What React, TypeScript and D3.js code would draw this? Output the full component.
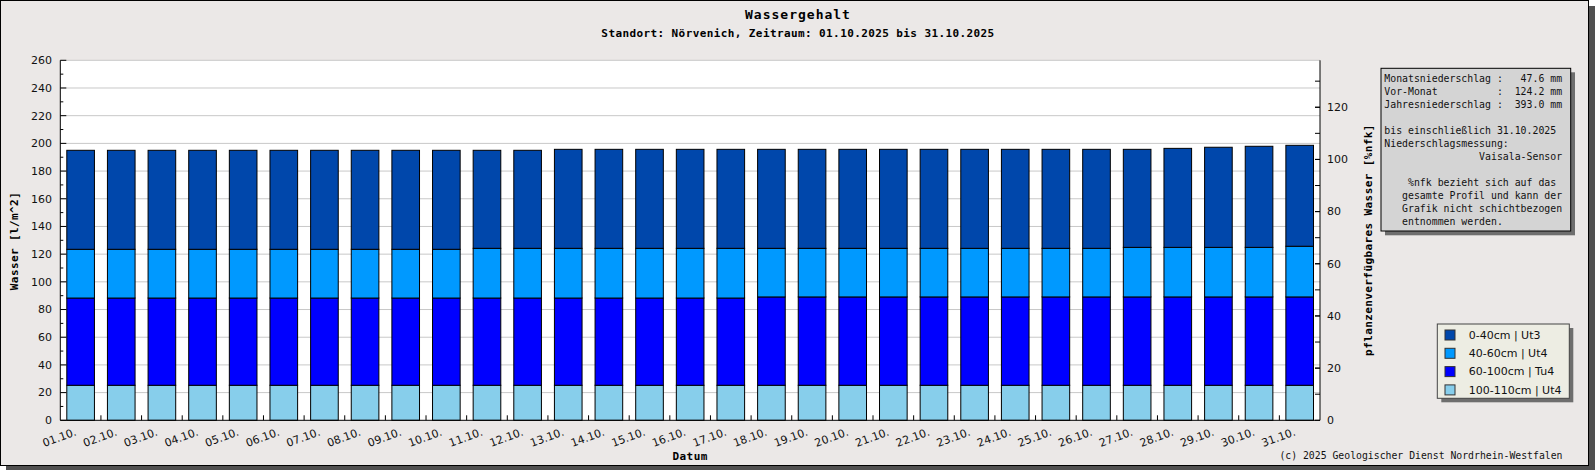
import React from 'react'
import * as d3 from 'd3'

// day labels on the x axis
const days = [
    '01.10.', '02.10.', '03.10.', '04.10.', '05.10.', '06.10.', '07.10.', '08.10.',
    '09.10.', '10.10.', '11.10.', '12.10.', '13.10.', '14.10.', '15.10.', '16.10.',
    '17.10.', '18.10.', '19.10.', '20.10.', '21.10.', '22.10.', '23.10.', '24.10.',
    '25.10.', '26.10.', '27.10.', '28.10.', '29.10.', '30.10.', '31.10.',
]

// water per layer in l/m^2
const layer0to40 = [
    71.5, 71.5, 71.5, 71.5, 71.5, 71.5, 71.5, 71.5, 71.5, 71.5, 70.8, 70.8, 71.5, 71.5, 71.5, 71.5,
    71.5, 71.5, 71.5, 71.5, 71.5, 71.5, 71.5, 71.5, 71.5, 71.5, 70.8, 71.5, 72.3, 73.0, 72.9,
]
const layer40to60 = [
    35.2, 35.2, 35.2, 35.2, 35.2, 35.2, 35.2, 35.2, 35.2, 35.2, 35.9, 35.9, 35.9, 35.9, 35.9, 35.9,
    35.9, 35.1, 35.1, 35.1, 35.1, 35.1, 35.1, 35.1, 35.1, 35.1, 35.8, 35.8, 35.8, 35.8, 36.6,
]
const layer60to100 = [
    63.0, 63.0, 63.0, 63.0, 63.0, 63.0, 63.0, 63.0, 63.0, 63.0, 63.0, 63.0, 63.0, 63.0, 63.0, 63.0,
    63.0, 63.8, 63.8, 63.8, 63.8, 63.8, 63.8, 63.8, 63.8, 63.8, 63.8, 63.8, 63.8, 63.8, 63.8,
]
const layer100to110 = [
    25.3, 25.3, 25.3, 25.3, 25.3, 25.3, 25.3, 25.3, 25.3, 25.3, 25.3, 25.3, 25.3, 25.3, 25.3, 25.3,
    25.3, 25.3, 25.3, 25.3, 25.3, 25.3, 25.3, 25.3, 25.3, 25.3, 25.3, 25.3, 25.3, 25.3, 25.3,
]

// bottom to top
const layerKeys = ['100-110cm | Ut4', '60-100cm | Tu4', '40-60cm | Ut4', '0-40cm | Ut3']
const layerColors = ['#87ceeb', '#0000ff', '#0099ff', '#0047ab']
const legendOrder = ['0-40cm | Ut3', '40-60cm | Ut4', '60-100cm | Tu4', '100-110cm | Ut4']

const leftTicks = [0, 20, 40, 60, 80, 100, 120, 140, 160, 180, 200, 220, 240, 260]
const rightTicks = [0, 20, 40, 60, 80, 100, 120]

const infoLines = [
    'Monatsniederschlag :   47.6 mm',
    'Vor-Monat          :  124.2 mm',
    'Jahresniederschlag :  393.0 mm',
    '',
    'bis einschließlich 31.10.2025',
    'Niederschlagsmessung:',
    '                Vaisala-Sensor',
    '',
    '    %nfk bezieht sich auf das',
    '   gesamte Profil und kann der',
    '   Grafik nicht schichtbezogen',
    '   entnommen werden.',
]

const W = 1595
const H = 470
const MONO = '"DejaVu Sans Mono", "Liberation Mono", monospace'
const SANS = '"DejaVu Sans", Verdana, sans-serif'

export default function App() {
    const plot = {left: 60.3, right: 1320, top: 60.3, bottom: 420.3}

    const rows = days.map((d, i) => ({
        day: d,
        [layerKeys[0]]: layer100to110[i],
        [layerKeys[1]]: layer60to100[i],
        [layerKeys[2]]: layer40to60[i],
        [layerKeys[3]]: layer0to40[i],
    }))

    const x = d3.scaleBand<string>()
        .domain(days)
        .range([plot.left, plot.right])
        .paddingInner(0.32)
        .paddingOuter(0.16)
    const y = d3.scaleLinear().domain([0, 260]).range([plot.bottom, plot.top])
    // %nfk scale on the right
    const yRight = d3.scaleLinear().domain([0, 138]).range([plot.bottom, plot.top])

    const series = d3.stack<any>().keys(layerKeys)(rows)
    const color = d3.scaleOrdinal<string>().domain(layerKeys).range(layerColors)

    const step = x.step()
    const leftMinor = d3.range(10, 260, 20)
    const rightMinor = d3.range(10, 138, 10)

    return (
        <svg width={W} height={H} style={{position: 'absolute', left: 0, top: 0}}>
            {/* outer frame with shadow */}
            <rect x={6} y={6} width={W - 6} height={H - 6} fill="#505050"/>
            <rect x={0.5} y={0.5} width={1588} height={465} fill="#ebe8e7" stroke="#000"/>

            <text x={798} y={18.5} textAnchor="middle" fontFamily={MONO} fontWeight="bold"
                  fontSize={13} letterSpacing={1}>Wassergehalt</text>
            <text x={798} y={37} textAnchor="middle" fontFamily={MONO} fontWeight="bold"
                  fontSize={11} letterSpacing={0.4}>
                Standort: Nörvenich, Zeitraum: 01.10.2025 bis 31.10.2025
            </text>

            {/* plot area */}
            <rect x={plot.left} y={plot.top} width={plot.right - plot.left} height={plot.bottom - plot.top}
                  fill="#fff"/>
            {leftTicks.slice(1).map(t => (
                <line key={'g' + t} x1={plot.left} x2={plot.right} y1={y(t)} y2={y(t)} stroke="#c8c8c8"/>
            ))}

            {series.map(s => (
                <g key={s.key} fill={color(s.key)} stroke="#000" strokeWidth={1}>
                    {s.map((d, i) => (
                        <rect key={i} x={x(days[i])} y={y(d[1])} width={x.bandwidth()}
                              height={y(d[0]) - y(d[1])}/>
                    ))}
                </g>
            ))}

            {/* axes */}
            <g stroke="#000" fill="none">
                <line x1={plot.left} x2={plot.left} y1={plot.top} y2={plot.bottom}/>
                <line x1={plot.right} x2={plot.right} y1={plot.top} y2={plot.bottom}/>
                <line x1={plot.left} x2={plot.right} y1={plot.bottom} y2={plot.bottom}/>
                {leftTicks.map(t => (
                    <line key={'lt' + t} x1={plot.left} x2={plot.left + 6} y1={y(t)} y2={y(t)}/>
                ))}
                {leftMinor.map(t => (
                    <line key={'lm' + t} x1={plot.left} x2={plot.left + 3} y1={y(t)} y2={y(t)}/>
                ))}
                {rightMinor.concat(rightTicks).map(t => (
                    <line key={'rt' + t} x1={plot.right - 5} x2={plot.right} y1={yRight(t)} y2={yRight(t)}/>
                ))}
                {days.slice(1).map(d => (
                    <line key={'xt' + d} x1={x(d)! - step * 0.16} x2={x(d)! - step * 0.16}
                          y1={plot.bottom} y2={plot.bottom - 5}/>
                ))}
            </g>

            <g fontFamily={SANS} fontSize={11} fill="#111">
                {leftTicks.map(t => (
                    <text key={'ll' + t} x={52} y={y(t)} dy="0.35em" textAnchor="end">{t}</text>
                ))}
                {rightTicks.map(t => (
                    <text key={'rl' + t} x={1327} y={yRight(t)} dy="0.35em">{t}</text>
                ))}
                {days.map(d => (
                    <text key={'xl' + d} textAnchor="end"
                          transform={`translate(${x(d)! + x.bandwidth() / 2 - 3.5},435) rotate(-20)`}>{d}</text>
                ))}
            </g>

            <text transform="translate(17.5,241) rotate(-90)" textAnchor="middle" fontFamily={MONO}
                  fontWeight="bold" fontSize={11} letterSpacing={0.4}>Wasser [l/m^2]</text>
            <text transform="translate(1372,240) rotate(-90)" textAnchor="middle" fontFamily={MONO}
                  fontWeight="bold" fontSize={11} letterSpacing={0.4}>pflanzenverfügbares Wasser [%nfk]</text>
            <text x={(plot.left + plot.right) / 2} y={460} textAnchor="middle" fontFamily={MONO}
                  fontWeight="bold" fontSize={11} letterSpacing={0.4}>Datum</text>

            {/* info box */}
            <rect x={1385} y={72.3} width={190} height={163} fill="#6e6e6e"/>
            <rect x={1381} y={68.3} width={189.7} height={162.7} fill="#d4d4d4" stroke="#000"/>
            <g fontFamily={MONO} fontSize={9.85} fill="#111" style={{whiteSpace: 'pre'}}>
                {infoLines.map((l, i) => (
                    <text key={'il' + i} x={1384.3} y={82 + i * 13} xmlSpace="preserve">{l}</text>
                ))}
            </g>

            {/* legend */}
            <rect x={1441.3} y={328} width={132} height={74.3} fill="#6e6e6e"/>
            <rect x={1437.3} y={324} width={132} height={74.3} fill="#edede3" stroke="#444"/>
            {legendOrder.map((k, i) => (
                <g key={k} transform={`translate(0,${335 + i * 18.3})`}>
                    <rect x={1445} y={-5} width={10} height={10} fill={color(k)} stroke="#333"/>
                    <text x={1468.7} dy="0.35em" fontFamily={SANS} fontSize={11} fill="#111">{k}</text>
                </g>
            ))}

            <text x={1562.5} y={459} textAnchor="end" fontFamily={MONO} fontSize={9.8} fill="#111"
                  xmlSpace="preserve">(c) 2025 Geologischer Dienst Nordrhein-Westfalen</text>
        </svg>
    )
}
